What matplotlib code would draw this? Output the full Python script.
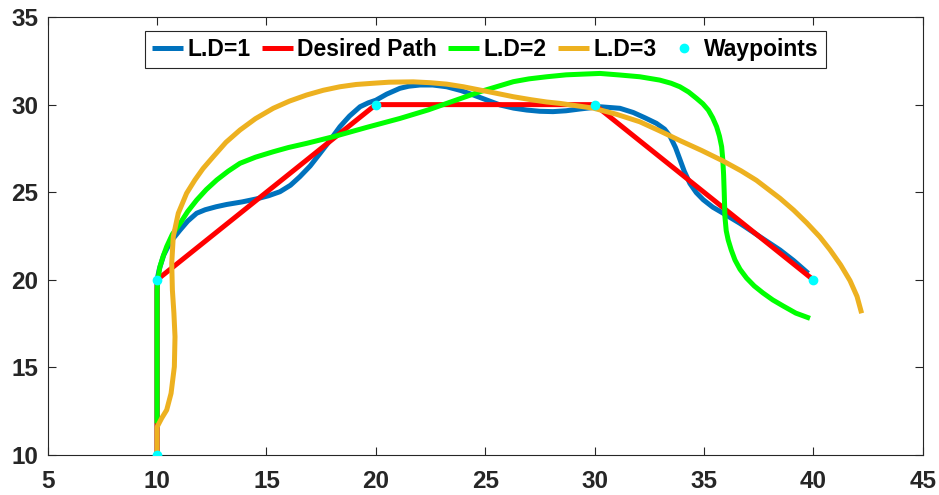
import matplotlib
matplotlib.use("Agg")
import matplotlib.pyplot as plt

# waypoints and the straight path through them
wp_x = [10, 10, 20, 30, 40]
wp_y = [10, 20, 30, 30, 20]

# look-ahead distance 1
ld1_x = [10, 10, 10.1, 10.3, 10.6, 11.05, 11.4, 11.81, 12.2, 12.7, 13.18, 13.9, 14.55, 15.1, 15.62,
         16.1, 16.53, 17.0, 17.45, 17.9, 18.36, 18.8, 19.28, 19.65, 20.0, 20.5, 21.1, 21.5, 22.02,
         22.6, 23.24, 23.9, 24.46, 25.1, 25.68, 26.3, 26.9, 27.5, 28.1, 28.7, 29.33, 30.24, 31.16,
         31.77, 32.3, 32.83, 33.2, 33.45, 33.7, 33.9, 34.1, 34.36, 34.65, 34.97, 35.4, 35.88, 36.65,
         37.56, 38.48, 39.1, 39.77]
ld1_y = [10, 20, 20.6, 21.4, 22.15, 22.84, 23.35, 23.8, 24.0, 24.17, 24.3, 24.45, 24.62, 24.8, 25.03,
         25.4, 25.89, 26.5, 27.22, 27.95, 28.74, 29.35, 29.88, 30.1, 30.25, 30.6, 30.93, 31.05, 31.12,
         31.12, 31.02, 30.8, 30.55, 30.25, 29.98, 29.8, 29.69, 29.62, 29.6, 29.65, 29.75, 29.88, 29.79,
         29.55, 29.25, 28.93, 28.6, 28.2, 27.55, 26.88, 26.2, 25.5, 24.98, 24.57, 24.15, 23.8, 23.22,
         22.46, 21.7, 21.1, 20.37]

# look-ahead distance 2
ld2_x = [10, 10, 10.05, 10.13, 10.28, 10.44, 10.7, 11.05, 11.4, 11.81, 12.25, 12.73, 13.25, 13.79,
         14.5, 15.31, 16.0, 16.84, 18.06, 19.58, 21.1, 22.4, 23.24, 24.77, 26.29, 27.0, 27.81, 28.7,
         29.64, 30.25, 31.16, 32.07, 32.98, 33.5, 33.9, 34.3, 34.66, 34.95, 35.2, 35.4, 35.58, 35.71,
         35.81, 35.86, 35.9, 35.93, 35.96, 36.02, 36.11, 36.25, 36.42, 36.65, 36.95, 37.3, 37.7,
         38.15, 38.63, 39.2, 39.85]
ld2_y = [11.8, 19.4, 20.1, 20.75, 21.35, 21.9, 22.6, 23.22, 23.9, 24.55, 25.15, 25.7, 26.2, 26.65,
         27.0, 27.31, 27.55, 27.79, 28.17, 28.7, 29.21, 29.7, 30.07, 30.74, 31.31, 31.47, 31.59, 31.7,
         31.75, 31.78, 31.69, 31.59, 31.4, 31.22, 31.02, 30.72, 30.36, 30.05, 29.69, 29.25, 28.74, 28.2,
         27.6, 26.9, 26.0, 24.9, 23.6, 22.8, 22.27, 21.7, 21.13, 20.6, 20.1, 19.65, 19.25,
         18.85, 18.5, 18.1, 17.8]

# look-ahead distance 3
ld3_x = [10, 10, 10.21, 10.44, 10.64, 10.79, 10.82, 10.77, 10.7, 10.67, 10.74, 10.97, 11.35, 11.73,
         12.1, 12.57, 13.15, 13.79, 14.5, 15.31, 16.05, 16.84, 17.6, 18.36, 19.1, 19.88, 20.6, 21.71,
         22.5, 23.24, 24.0, 24.77, 25.5, 26.29, 27.1, 27.81, 28.42, 29.94, 31.0, 32.07, 32.98, 33.9,
         34.9, 35.88, 36.7, 37.4, 38.48, 39.1, 39.7, 40.3, 40.76, 41.25, 41.68, 42.0, 42.21]
ld3_y = [10, 11.6, 12.1, 12.57, 13.52, 15.04, 16.75, 18.09, 19.42, 20.94, 22.46, 23.8, 24.94, 25.7,
         26.35, 27.03, 27.85, 28.55, 29.2, 29.79, 30.2, 30.55, 30.82, 31.02, 31.15, 31.22, 31.28, 31.3,
         31.25, 31.17, 31.02, 30.83, 30.65, 30.45, 30.28, 30.15, 30.07, 29.8, 29.45, 29.02, 28.5, 27.95,
         27.38, 26.78, 26.22, 25.68, 24.65, 23.98, 23.25, 22.45, 21.72, 20.85, 19.95, 19.05, 18.09]

plt.rcParams['font.family'] = ['Liberation Sans', 'DejaVu Sans']
plt.rcParams['font.weight'] = 'bold'

fig = plt.figure(figsize=(9.39, 4.95), dpi=100)
ax = fig.add_axes([0.0508, 0.0808, 0.9318, 0.8848])

style = dict(lw=3.6, solid_capstyle='butt', solid_joinstyle='round')
ax.plot(ld1_x, ld1_y, color='#0072BD', label='L.D=1', **style)
ax.plot(wp_x, wp_y, color='#FF0000', label='Desired Path', **style)
ax.plot(ld2_x, ld2_y, color='#00FF00', label='L.D=2', **style)
ax.plot(ld3_x, ld3_y, color='#EDB120', label='L.D=3', **style)
ax.plot(wp_x, wp_y, 'o', color='#00FFFF', ms=6, ls='none', label='Waypoints', zorder=5)

ax.set_xlim(5, 45)
ax.set_ylim(10, 35)
ax.set_xticks(range(5, 46, 5))
ax.set_yticks(range(10, 36, 5))

for s in ax.spines.values():
    s.set_color('#262626')
    s.set_linewidth(0.8)
ax.tick_params(direction='in', length=6, width=0.8, colors='#262626', top=True, right=True,
               labelsize=17.5)
ax.tick_params(axis='x', pad=11)
ax.tick_params(axis='y', pad=7)

leg = ax.legend(loc='upper center', ncol=5, fontsize=16.5, frameon=True, fancybox=False,
                handlelength=1.35, handletextpad=0.2, columnspacing=0.5, borderpad=0.3,
                borderaxespad=0.6)
leg.get_frame().set_edgecolor('#262626')
leg.get_frame().set_linewidth(0.8)
leg.get_frame().set_alpha(1)

fig.savefig('out.png', dpi=100)
